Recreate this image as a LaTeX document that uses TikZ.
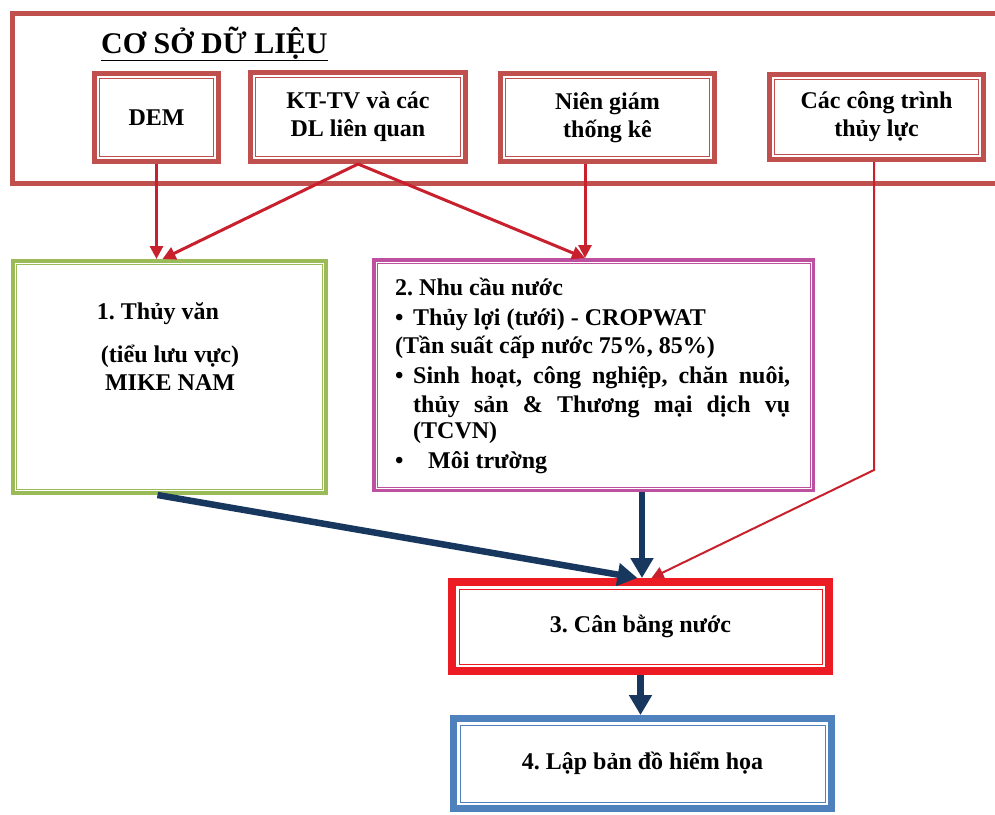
\documentclass[tikz,border=0pt]{standalone}
\usepackage{fontspec}
\setmainfont{Liberation Serif}
\usetikzlibrary{arrows.meta,calc}
\definecolor{dbred}{HTML}{C0504D}
\definecolor{arrred}{RGB}{200,32,45}
\definecolor{grn}{HTML}{9BBB59}
\definecolor{mag}{RGB}{190,80,160}
\definecolor{brightred}{HTML}{ED1C24}
\definecolor{bluebox}{HTML}{4F81BD}
\definecolor{navy}{HTML}{17375E}
\newcommand{\dblframe}[3]{\draw[draw=#3, line width=1pt] ([xshift=#2,yshift=-#2]#1.north west) rectangle ([xshift=-#2,yshift=#2]#1.south east);}
\frenchspacing
\begin{document}
\begin{tikzpicture}[x=1pt,y=1pt,
  txt/.style={font=\fontsize{24}{28}\selectfont\bfseries, inner sep=0pt},
  box/.style 2 args={draw=#1, line width=#2, fill=white, rectangle, inner sep=0pt, align=center, font=\fontsize{24}{28}\selectfont\bfseries},
  redarrow/.style={draw=arrred, line width=3pt, -{Triangle[length=13pt,width=13pt]}},
  thinred/.style={draw=arrred, line width=2pt, -{Triangle[length=12pt,width=12pt]}},
  navyarrow/.style={draw=navy, line width=6.5pt, -{Triangle[length=20pt,width=22pt]}}
]
\useasboundingbox (0,0) rectangle (995,-814);
\fill[white] (0,0) rectangle (995,-814);

% database container
\draw[draw=dbred, line width=5pt] (12.5,-13.5) rectangle (1010,-183);
\node[anchor=base west, inner sep=0pt, font=\fontsize{30}{34}\selectfont\bfseries] (title) at (101,-53) {\underline{CƠ SỞ DỮ LIỆU}};

% source boxes
\node[box={dbred}{5pt}, minimum width=124pt, minimum height=88pt] (dem) at (156.5,-117.5) {DEM};
\node[box={dbred}{5pt}, minimum width=215pt, minimum height=89pt] (kt) at (358,-117) {KT-TV và các\\DL liên quan};
\node[box={dbred}{5pt}, minimum width=214pt, minimum height=88pt] (ng) at (607.5,-117.5) {Niên giám\\thống kê};
\node[box={dbred}{5pt}, minimum width=214pt, minimum height=85pt] (cc) at (876.5,-117) {Các công trình\\thủy lực};
\dblframe{dem}{7.5pt}{dbred}
\dblframe{kt}{7.5pt}{dbred}
\dblframe{ng}{7.5pt}{dbred}
\dblframe{cc}{7.5pt}{dbred}

% box 1
\node[box={grn}{4pt}, minimum width=313pt, minimum height=232pt] (h1) at (169.5,-377) {};
\dblframe{h1}{5.5pt}{grn}
\node[txt, anchor=base] (h1a) at (158,-319) {1. Thủy văn};
\node[txt, anchor=base] (h1b) at (170,-362) {(tiểu lưu vực)};
\node[txt, anchor=base] (h1c) at (170,-390) {MIKE NAM};

% box 2
\node[box={mag}{3.5pt}, minimum width=439.5pt, minimum height=230.5pt] (h2) at (593.5,-375) {};
\dblframe{h2}{5pt}{mag}
\node[txt, anchor=base west] (l1) at (395,-295) {2. Nhu cầu nước};
\node[txt, anchor=base west] (l2) at (395,-325) {\makebox[18pt][l]{•}Thủy lợi (tưới) - CROPWAT};
\node[txt, anchor=base west] (l3) at (395,-353) {(Tần suất cấp nước 75\%, 85\%)};
\node[txt, anchor=base west] (l4) at (395,-383) {\makebox[18pt][l]{•}\makebox[377pt][s]{Sinh hoạt, công nghiệp, chăn nuôi,}};
\node[txt, anchor=base west] (l5) at (413,-412) {\makebox[377pt][s]{thủy sản \& Thương mại dịch vụ}};
\node[txt, anchor=base west] (l6) at (413,-438) {(TCVN)};
\node[txt, anchor=base west] (l7) at (395,-468) {\makebox[33pt][l]{•}Môi trường};

% box 3 and 4
\node[box={brightred}{8pt}, minimum width=377pt, minimum height=89pt] (h3) at (640.5,-626.5) {3. Cân bằng nước};
\dblframe{h3}{11pt}{brightred}
\node[box={bluebox}{7pt}, minimum width=378pt, minimum height=90pt] (h4) at (642.5,-763.5) {4. Lập bản đồ hiểm họa};
\dblframe{h4}{10pt}{bluebox}

% red connectors
\draw[redarrow] (dem.south) -- (dem.south |- h1.north);
\draw[redarrow] (kt.south) -- ([xshift=-7pt]h1.north);
\coordinate (n2) at ([xshift=-8.5pt]h2.north);
\draw[redarrow] (kt.south) -- (n2);
\coordinate (ngx) at ([xshift=-22.5pt]ng.south);
\draw[redarrow] (ngx) -- (ngx |- h2.north);
\coordinate (bend) at (874,-470);
\draw[thinred] ([xshift=-2.5pt]cc.south) -- ([xshift=-2.5pt]cc.south |- bend) -- ([xshift=11pt]h3.north);

% navy connectors
\draw[navyarrow] ([xshift=-12pt]h1.south) -- ([xshift=-3pt]h3.north);
\coordinate (m3) at ([xshift=1.5pt]h3.north);
\draw[navyarrow] (m3 |- h2.south) -- (m3);
\draw[navyarrow] (h3.south) -- (h3.south |- h4.north);
\end{tikzpicture}
\end{document}
